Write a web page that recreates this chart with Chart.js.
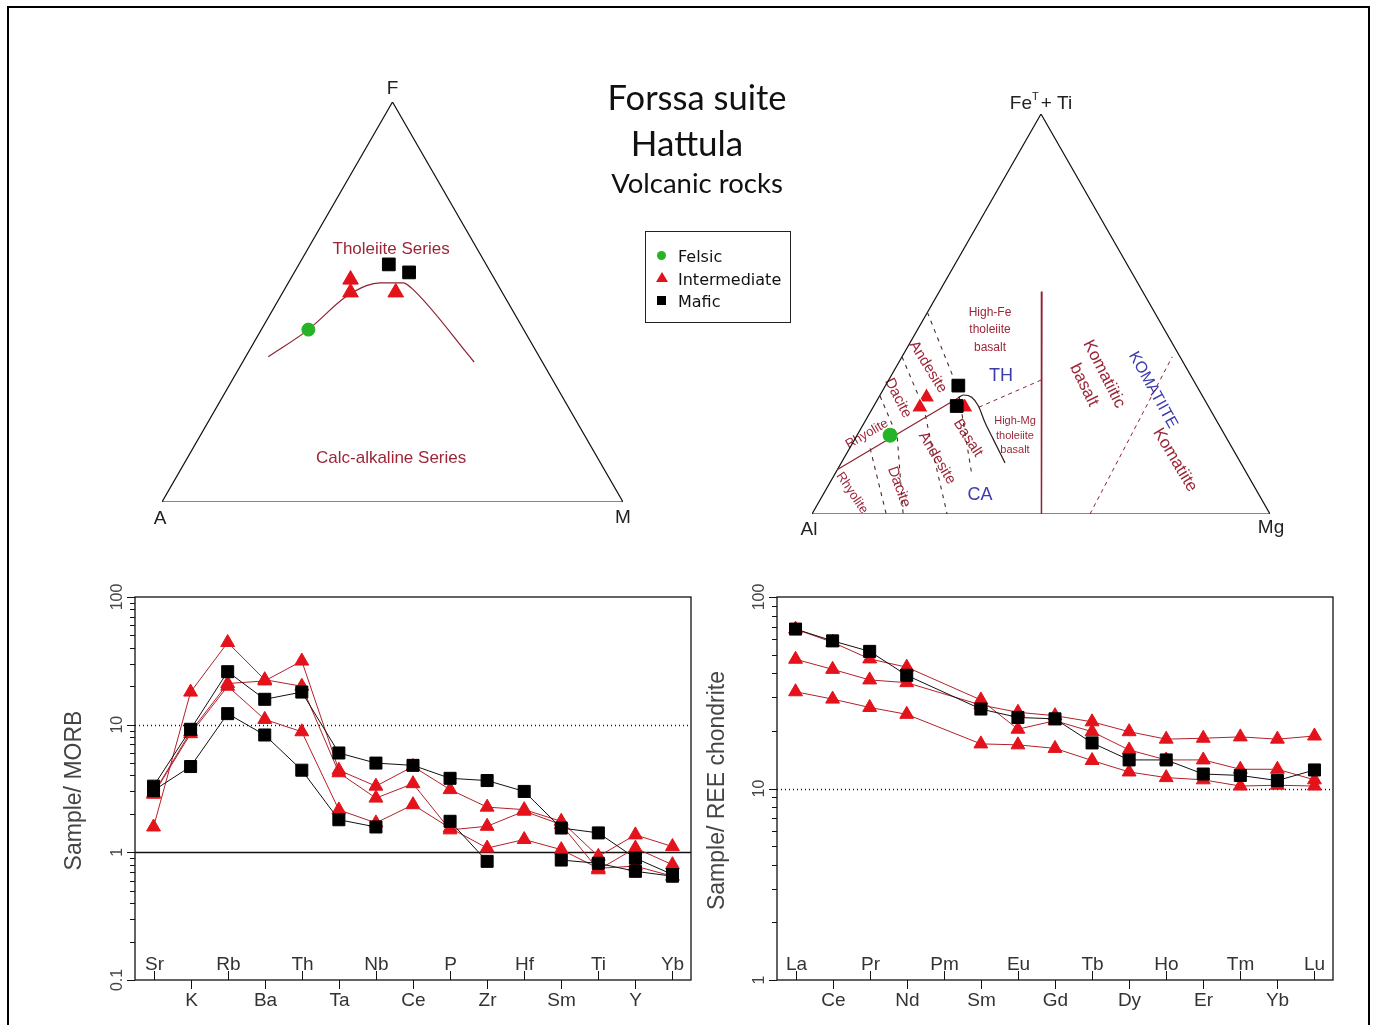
<!DOCTYPE html>
<html>
<head>
<meta charset="utf-8">
<title>Forssa suite - Hattula volcanic rocks</title>
<script src="https://cdn.jsdelivr.net/npm/chart.js@4.4.1/dist/chart.umd.min.js"></script>
<style>
  body { margin: 0; background: #fff; }
  #page { position: relative; width: 1375px; height: 1025px; overflow: hidden; background: #fff; }
  .frame { position: absolute; left: 7px; top: 6px; width: 1359px; height: 1040px; border: 2px solid #000; }
  canvas { position: absolute; }
  .title { position: absolute; width: 300px; text-align: center; font-family: Lato, "Open Sans", sans-serif; color: #111; line-height: 1; }
  #legend { position: absolute; left: 645px; top: 231px; width: 144px; height: 90px; border: 1px solid #222;
            font-family: "DejaVu Sans", Verdana, sans-serif; font-size: 16px; color: #111; }
  #legend div { position: absolute; left: 32px; line-height: 18px; }
  .mk { position: absolute; }
</style>
</head>
<body>
<div id="page">
  <div class="frame"></div>
  <canvas id="afm" width="560" height="480" style="left:120px; top:60px"></canvas>
  <canvas id="jensen" width="560" height="480" style="left:770px; top:70px"></canvas>
  <canvas id="morb" width="665" height="465" style="left:40px; top:560px"></canvas>
  <canvas id="ree" width="670" height="465" style="left:690px; top:560px"></canvas>

  <div class="title" style="left:547px; top:80px; font-size:34.5px">Forssa suite</div>
  <div class="title" style="left:537px; top:125px; font-size:35px">Hattula</div>
  <div class="title" style="left:547px; top:169px; font-size:27.5px">Volcanic rocks</div>

  <div id="legend">
    <span class="mk" style="left:11px; top:19px; width:9px; height:9px; border-radius:50%; background:#27b327"></span>
    <span class="mk" style="left:10px; top:40px; width:0; height:0; border-left:6px solid transparent; border-right:6px solid transparent; border-bottom:10px solid #e3121b"></span>
    <span class="mk" style="left:11px; top:64px; width:9px; height:9px; background:#000"></span>
    <div style="top:16px">Felsic</div>
    <div style="top:39px">Intermediate</div>
    <div style="top:61px">Mafic</div>
  </div>
</div>

<script>
const SQ3 = Math.sqrt(3) / 2;
const RED = '#e3121b';
const RED_LINE = '#b3202a';
const MAROON = '#9c2638';
const BLUE = '#3b3bb0';
const GREEN = '#27b327';
const FONT = '"Liberation Sans", Arial, sans-serif';

// AFM diagram, each point is [A, F, M] in %
const afmFelsic = [[46.7, 43.1, 10.2]];
const afmIntermediate = [[31.3, 55.6, 13.1], [32.9, 52.4, 14.7], [23.1, 52.4, 24.5]];
const afmMafic = [[21.1, 59.4, 19.5], [17.7, 57.4, 24.9]];
const afmBoundary = [[58.8, 36.3, 4.9], [46.7, 43.1, 10.2], [34.8, 51.1, 14.1], [28.6, 54.1, 17.3],
                     [25.3, 54.8, 19.9], [20.3, 54.8, 24.9], [19.1, 53.4, 27.5], [14.8, 35.0, 50.2]];

// Jensen cation plot, each point is [Al, FeT+Ti, Mg] in %
const jensenFelsic = [[73.1, 19.7, 7.2]];
const jensenIntermediate = [[60.4, 29.2, 10.4], [63.1, 26.7, 10.2], [53.3, 26.7, 20.0]];
const jensenMafic = [[52.0, 32.1, 15.9], [54.9, 27.0, 18.1]];
const jensenCaThLine = [[88.9, 11.1, 0], [53.6, 29.0, 17.4]];
const jensenMgCurve = [[53.6, 29.0, 17.4], [52.1, 29.75, 18.15], [50.55, 29.17, 20.28], [50.17, 27.05, 22.78],
                       [50.79, 22.87, 26.34], [51.08, 18.66, 30.26], [51.47, 12.78, 35.75]];
const jensenThDash = [[50.2, 26.7, 23.1], [33.2, 33.5, 33.3]];
const jensenAlMgLine = [[22.0, 55.6, 22.4], [49.9, 0, 50.1]];
const jensenRockDashes = [
  [[79.1, 16.4, 4.5], [83.8, 0, 16.2]],
  [[70.4, 29.5, 0.1], [71.7, 19.4, 8.9], [80.1, 0, 19.9]],
  [[60.7, 39.3, 0], [62.4, 26.2, 11.4], [65.9, 15.4, 18.7], [70.5, 0, 29.5]],
  [[49.6, 50.4, 0], [52.5, 31.3, 16.2], [60.2, 9.8, 30.0]]
];
const jensenKomatiiteDash = [[39.3, 0, 60.7], [1.7, 39.3, 59.0]];

// MORB-normalised spider diagram
const morbElements = ['Sr', 'K', 'Rb', 'Ba', 'Th', 'Ta', 'Nb', 'Ce', 'P', 'Zr', 'Hf', 'Sm', 'Ti', 'Y', 'Yb'];
const morbMafic1 = [3.3, 9.2, 26, 15.8, 18, 6.0, 5.0, 4.8, 3.8, 3.65, 3.0, 1.55, 1.42, 0.9, 0.67];
const morbMafic2 = [3.05, 4.7, 12.2, 8.3, 4.4, 1.8, 1.58, null, 1.75, 0.85, null, 0.87, 0.82, 0.71, 0.65];
const morbInter1 = [1.58, 18, 44, 22.5, 20, 4.2, 2.66, 3.45, 1.5, 1.6, 2.1, 1.65, 0.73, 1.08, 0.8];
const morbInter2 = [2.9, 8.8, 21, 22, 31.5, 4.4, 3.3, 4.7, 3.1, 2.26, 2.16, 1.75, 0.93, 1.37, 1.11];
const morbInter3 = [2.85, 8.5, 20, 11, 8.8, 2.15, 1.7, 2.36, 1.55, 1.08, 1.26, 1.05, 0.75, 0.78, 0.65];

// chondrite-normalised REE diagram
const reeElements = ['La', 'Ce', 'Pr', 'Nd', 'Pm', 'Sm', 'Eu', 'Gd', 'Tb', 'Dy', 'Ho', 'Er', 'Tm', 'Yb', 'Lu'];
const reeMafic = [68, 59, 52, 39, null, 26, 23.5, 23.1, 17.3, 14.1, 14.1, 11.9, 11.7, 11.0, 12.5];
const reeInter1 = [68, 58, 47.5, 43, null, 29, 20.4, 22.6, 19.8, 15.9, 14.1, 14.1, 12.6, 12.6, 11.1];
const reeInter2 = [47.3, 41.9, 36.9, 35.7, null, 27.3, 25, 24, 22.3, 19.8, 18.1, 18.3, 18.6, 18.1, 18.8];
const reeInter3 = [32, 29.3, 26.5, 24.4, null, 17.1, 16.9, 16.2, 14.0, 12.2, 11.4, 11.1, 10.3, 10.4, 10.3];

// [left, top, right] -> x/y inside a unit triangle
function toXY(p) {
    const s = p[0] + p[1] + p[2];
    return { x: (p[2] + p[1] / 2) / s, y: p[1] / s * SQ3 };
}

function pointSet(pts, style, radius, color, border) {
    return {
        data: pts.map(toXY), pointStyle: style, pointRadius: radius,
        pointBackgroundColor: color, pointBorderColor: border || color, pointBorderWidth: 1, showLine: false
    };
}

function lineSet(pts, color, width, dash, smooth) {
    return {
        data: pts.map(toXY), showLine: true, pointRadius: 0, borderColor: color, borderWidth: width,
        borderDash: dash || [], cubicInterpolationMode: smooth ? 'monotone' : 'default'
    };
}

const triangleEdge = [[100, 0, 0], [0, 100, 0], [0, 0, 100], [100, 0, 0]];

const ternaryText = {
    id: 'ternaryText',
    beforeDatasetsDraw(chart, args, opts) {
        const { ctx, scales: { x, y } } = chart;
        ctx.save();
        ctx.textAlign = 'center';
        ctx.textBaseline = 'middle';
        (opts.labels || []).forEach(l => {
            ctx.save();
            ctx.translate(x.getPixelForValue(l.x), y.getPixelForValue(l.y));
            ctx.rotate((l.rot || 0) * Math.PI / 180);
            ctx.font = l.font;
            ctx.fillStyle = l.color;
            ctx.fillText(l.text, 0, 0);
            ctx.restore();
        });
        ctx.restore();
    },
    afterDatasetsDraw(chart, args, opts) {
        const { ctx, scales: { x, y } } = chart;
        ctx.save();
        ctx.textBaseline = 'middle';
        ctx.textAlign = 'left';
        ctx.fillStyle = '#222';
        (opts.vertices || []).forEach(v => {
            const p = toXY(v.at);
            const cx = x.getPixelForValue(p.x) + v.dx;
            const cy = y.getPixelForValue(p.y) + v.dy;
            let total = 0;
            v.parts.forEach(part => {
                ctx.font = part.size + 'px ' + FONT;
                total += ctx.measureText(part.t).width + (part.gap || 0);
            });
            let px = cx - total / 2;
            v.parts.forEach(part => {
                ctx.font = part.size + 'px ' + FONT;
                ctx.fillText(part.t, px, cy + (part.dy || 0));
                px += ctx.measureText(part.t).width + (part.gap || 0);
            });
        });
        ctx.restore();
    }
};

function ternaryChart(id, padding, datasets, labels, vertices) {
    return new Chart(document.getElementById(id), {
        type: 'scatter',
        data: { datasets },
        options: {
            responsive: false,
            animation: false,
            devicePixelRatio: 1,
            layout: { padding },
            plugins: {
                legend: { display: false },
                tooltip: { enabled: false },
                ternaryText: { labels, vertices }
            },
            scales: {
                x: { type: 'linear', min: 0, max: 1, display: false },
                y: { type: 'linear', min: 0, max: SQ3, display: false }
            }
        },
        plugins: [ternaryText]
    });
}

// AFM
ternaryChart('afm', { left: 42, top: 42, right: 57, bottom: 38 }, [
    pointSet(afmMafic, 'rect', 9, '#000'),
    pointSet(afmIntermediate, 'triangle', 9, RED),
    pointSet(afmFelsic, 'circle', 6.5, GREEN),
    lineSet(afmBoundary, '#8e2232', 1.2, null, true),
    lineSet(triangleEdge, '#111', 1.2)
], [
    { text: 'Tholeiite Series', x: 0.497, y: 0.548, font: '17px ' + FONT, color: MAROON },
    { text: 'Calc-alkaline Series', x: 0.497, y: 0.095, font: '17px ' + FONT, color: MAROON }
], [
    { at: [0, 100, 0], dx: 0, dy: -13, parts: [{ t: 'F', size: 19 }] },
    { at: [100, 0, 0], dx: -2, dy: 17, parts: [{ t: 'A', size: 19 }] },
    { at: [0, 0, 100], dx: 0, dy: 16, parts: [{ t: 'M', size: 19 }] }
]);

// Jensen cation plot
const rockFont = '15px ' + FONT;
ternaryChart('jensen', { left: 42, top: 44, right: 60, bottom: 36 }, [
    pointSet(jensenMafic, 'rect', 9, '#000'),
    pointSet(jensenIntermediate, 'triangle', 9.5, RED, '#fff'),
    pointSet(jensenFelsic, 'circle', 7, GREEN),
    lineSet(jensenCaThLine, '#8e2232', 1.2),
    lineSet(jensenMgCurve, '#2a1a1a', 1.2, null, true),
    lineSet(jensenThDash, '#8e2232', 1, [4, 4]),
    lineSet(jensenAlMgLine, '#8e2232', 1.5),
    ...jensenRockDashes.map(d => lineSet(d, '#4a2a2a', 1.1, [4, 5])),
    lineSet(jensenKomatiiteDash, '#8e2232', 1, [4, 4]),
    lineSet(triangleEdge, '#111', 1.2)
], [
    { text: 'High-Fe', x: 0.3886, y: 0.4352, font: '12px ' + FONT, color: MAROON },
    { text: 'tholeiite', x: 0.3886, y: 0.3984, font: '12px ' + FONT, color: MAROON },
    { text: 'basalt', x: 0.3886, y: 0.3594, font: '12px ' + FONT, color: MAROON },
    { text: 'TH', x: 0.4127, y: 0.2988, font: '18px ' + FONT, color: BLUE },
    { text: 'High-Mg', x: 0.4432, y: 0.2013, font: '11px ' + FONT, color: MAROON },
    { text: 'tholeiite', x: 0.4432, y: 0.1689, font: '11px ' + FONT, color: MAROON },
    { text: 'basalt', x: 0.4432, y: 0.1386, font: '11px ' + FONT, color: MAROON },
    { text: 'CA', x: 0.3668, y: 0.0411, font: '18px ' + FONT, color: BLUE },
    { text: 'Andesite', x: 0.2533, y: 0.3183, rot: 58, font: rockFont, color: MAROON },
    { text: 'Dacite', x: 0.1878, y: 0.2511, rot: 63, font: rockFont, color: MAROON },
    { text: 'Rhyolite', x: 0.1201, y: 0.1732, rot: -30, font: '13px ' + FONT, color: MAROON },
    { text: 'Basalt', x: 0.3406, y: 0.1645, rot: 57, font: rockFont, color: MAROON },
    { text: 'Andesite', x: 0.2729, y: 0.1212, rot: 59, font: rockFont, color: MAROON },
    { text: 'Dacite', x: 0.19, y: 0.0585, rot: 70, font: rockFont, color: MAROON },
    { text: 'Rhyolite', x: 0.0873, y: 0.0455, rot: 56, font: '13px ' + FONT, color: MAROON },
    { text: 'Komatiitic', x: 0.6376, y: 0.3031, rot: 63, font: '17px ' + FONT, color: MAROON },
    { text: 'basalt', x: 0.5939, y: 0.2793, rot: 64, font: '17px ' + FONT, color: MAROON },
    { text: 'KOMATIITE', x: 0.7445, y: 0.2685, rot: 61, font: '16px ' + FONT, color: BLUE },
    { text: 'Komatiite', x: 0.7926, y: 0.1169, rot: 59, font: '17px ' + FONT, color: MAROON }
], [
    { at: [0, 100, 0], dx: 0, dy: -10, parts: [{ t: 'Fe', size: 19 }, { t: 'T', size: 11, dy: -7, gap: 2 }, { t: '+ Ti', size: 19 }] },
    { at: [100, 0, 0], dx: -3, dy: 16, parts: [{ t: 'Al', size: 19 }] },
    { at: [0, 0, 100], dx: 1, dy: 14, parts: [{ t: 'Mg', size: 19 }] }
]);

// frame, reference lines, log ticks and staggered element labels
const spiderAxes = {
    id: 'spiderAxes',
    beforeDatasetsDraw(chart, args, o) {
        const { ctx, chartArea: a, scales: { x, y } } = chart;
        ctx.save();
        ctx.strokeStyle = '#111';
        o.refLines.forEach(r => {
            const py = Math.round(y.getPixelForValue(r.value)) + 0.5;
            ctx.beginPath();
            ctx.setLineDash(r.dash || []);
            ctx.lineWidth = r.width;
            ctx.moveTo(a.left, py);
            ctx.lineTo(a.right, py);
            ctx.stroke();
        });
        ctx.setLineDash([]);
        ctx.lineWidth = 1.3;
        ctx.strokeRect(a.left, a.top, a.right - a.left, a.bottom - a.top);

        const lo = Math.round(Math.log10(y.min));
        const hi = Math.round(Math.log10(y.max));
        ctx.lineWidth = 1;
        for (let e = lo; e <= hi; e++) {
            const base = Math.pow(10, e);
            for (let k = 1; k < 10; k++) {
                if (e === hi && k > 1) break;
                const py = Math.round(y.getPixelForValue(base * k)) + 0.5;
                ctx.beginPath();
                ctx.moveTo(a.left, py);
                ctx.lineTo(a.left - (k === 1 ? 8 : 5), py);
                ctx.stroke();
            }
            ctx.save();
            ctx.translate(a.left - 17, y.getPixelForValue(base));
            ctx.rotate(-Math.PI / 2);
            ctx.font = '16px ' + FONT;
            ctx.fillStyle = '#444';
            ctx.textAlign = 'center';
            ctx.textBaseline = 'middle';
            ctx.fillText(String(base), 0, 0);
            ctx.restore();
        }

        ctx.font = '19px ' + FONT;
        ctx.fillStyle = '#333';
        ctx.textAlign = 'center';
        ctx.textBaseline = 'middle';
        x.getLabels().forEach((lab, i) => {
            const px = Math.round(x.getPixelForValue(i)) + 0.5;
            const inside = i % 2 === 0;
            ctx.beginPath();
            ctx.moveTo(px, a.bottom);
            ctx.lineTo(px, a.bottom + (inside ? -9 : 9));
            ctx.stroke();
            ctx.fillText(lab, px, a.bottom + (inside ? -15 : 21));
        });

        ctx.save();
        ctx.translate(a.left - o.titleOffset, (a.top + a.bottom) / 2 + 2);
        ctx.rotate(-Math.PI / 2);
        ctx.font = '23px ' + FONT;
        ctx.fillStyle = '#444';
        ctx.textAlign = 'center';
        ctx.textBaseline = 'middle';
        ctx.fillText(o.title, 0, 0);
        ctx.restore();
        ctx.restore();
    }
};

function spiderSets(mafic, inter) {
    return [
        ...mafic.map(d => ({
            data: d, borderColor: '#111', borderWidth: 1, pointStyle: 'rect', pointRadius: 8.5,
            pointBackgroundColor: '#000', pointBorderColor: '#000'
        })),
        ...inter.map(d => ({
            data: d, borderColor: RED_LINE, borderWidth: 1, pointStyle: 'triangle', pointRadius: 8,
            pointBackgroundColor: RED, pointBorderColor: RED
        }))
    ];
}

function spiderChart(id, padding, labels, datasets, yMin, yMax, spanGaps, axes) {
    return new Chart(document.getElementById(id), {
        type: 'line',
        data: { labels, datasets },
        options: {
            responsive: false,
            animation: false,
            devicePixelRatio: 1,
            spanGaps,
            layout: { padding },
            plugins: {
                legend: { display: false },
                tooltip: { enabled: false },
                spiderAxes: axes
            },
            scales: {
                x: { type: 'category', offset: true, display: false },
                y: { type: 'logarithmic', min: yMin, max: yMax, display: false }
            }
        },
        plugins: [spiderAxes]
    });
}

spiderChart('morb', { left: 95, top: 37, right: 14, bottom: 45 }, morbElements,
    spiderSets([morbMafic1, morbMafic2], [morbInter1, morbInter2, morbInter3]), 0.1, 100, false, {
        title: 'Sample/ MORB', titleOffset: 60,
        refLines: [{ value: 10, width: 1.3, dash: [1, 3] }, { value: 1, width: 1.3 }]
    });

spiderChart('ree', { left: 87, top: 37, right: 27, bottom: 45 }, reeElements,
    spiderSets([reeMafic], [reeInter1, reeInter2, reeInter3]), 1, 100, true, {
        title: 'Sample/ REE chondrite', titleOffset: 59,
        refLines: [{ value: 10, width: 1.3, dash: [1, 3] }]
    });
</script>
</body>
</html>
